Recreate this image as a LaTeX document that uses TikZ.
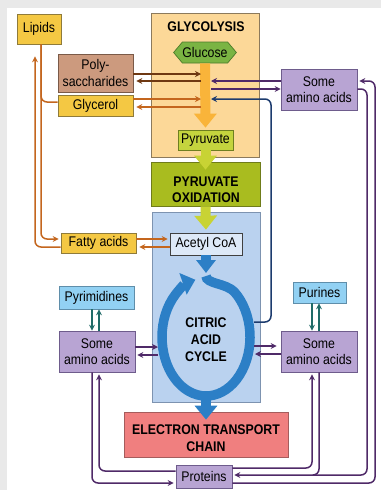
\documentclass[tikz,border=0pt]{standalone}
\usepackage{fontspec}
\setmainfont{Liberation Sans}[FakeStretch=0.88]
\usetikzlibrary{arrows.meta,shapes.symbols}

\definecolor{framegray}{HTML}{E9E9E9}
\definecolor{lipidyel}{HTML}{F4C843}
\definecolor{lipidline}{HTML}{8F7B3A}
\definecolor{polybrown}{HTML}{CC9A7E}
\definecolor{polyline}{HTML}{7A5A48}
\definecolor{glyfill}{HTML}{FCD898}
\definecolor{glyline}{HTML}{8C7A5C}
\definecolor{glucgreen}{HTML}{7AB443}
\definecolor{glucline}{HTML}{4C7A2A}
\definecolor{glyarrow}{HTML}{F9B43A}
\definecolor{pyrfill}{HTML}{C4D43E}
\definecolor{pyrline}{HTML}{6F7F20}
\definecolor{oxfill}{HTML}{A9BC1F}
\definecolor{oxline}{HTML}{6F7C1A}
\definecolor{ygarrow}{HTML}{C8D334}
\definecolor{citfill}{HTML}{BAD2EF}
\definecolor{citline}{HTML}{7D93B0}
\definecolor{acetylfill}{HTML}{DDE9F8}
\definecolor{ringblue}{HTML}{2C7FC6}
\definecolor{etcfill}{HTML}{F07F7F}
\definecolor{etcline}{HTML}{A55C5C}
\definecolor{aminopur}{HTML}{B8A4D3}
\definecolor{aminoline}{HTML}{6E5C8C}
\definecolor{nucblue}{HTML}{92D1F3}
\definecolor{nucline}{HTML}{5F8EAA}
\definecolor{brnline}{HTML}{6E3812}
\definecolor{orgline}{HTML}{C4661E}
\definecolor{purline}{HTML}{4F2A68}
\definecolor{navyline}{HTML}{1C3B6E}
\definecolor{tealline}{HTML}{1F6B68}

\tikzset{
  box/.style={rectangle, line width=0.7pt, inner sep=0pt, align=center,
    font=\fontsize{14}{16.5}\selectfont},
  fatbox/.style={box, fill=lipidyel, draw=lipidline},
  aminobox/.style={box, fill=aminopur, draw=aminoline, minimum width=76pt, minimum height=41pt},
  nucbox/.style={box, fill=nucblue, draw=nucline},
  stagebox/.style={rectangle, line width=0.7pt, inner sep=0pt},
  stagetext/.style={align=center, inner sep=0pt, font=\fontsize{14}{16}\selectfont\bfseries},
  flow/.style={line width=1.5pt, rounded corners=6pt, -{Stealth[length=6pt,width=6pt]}},
  blockarrow/.style={line width=10pt, -{Triangle[length=14pt,width=22pt]}}
}

\begin{document}
\begin{tikzpicture}[x=1pt, y=-1pt]
  \useasboundingbox (0,0) rectangle (381,490);
  \fill[framegray] (0,0) rectangle (381,490);
  \fill[white] (7,8) rectangle (381,490);

  % stages down the middle
  \node[stagebox, fill=glyfill, draw=glyline, minimum width=108pt, minimum height=144pt] (glycolysis) at (205,85) {};
  \node[stagetext] (glytitle) at (206,27) {GLYCOLYSIS};
  \node[box, shape=signal, signal to=east and west, signal pointer angle=100,
    fill=glucgreen, draw=glucline, minimum width=60pt, minimum height=21pt] (glucose) at (205,52.5) {Glucose};
  \node[box, fill=pyrfill, draw=pyrline, minimum width=55pt, minimum height=20pt] (pyruvate) at (205.5,140) {Pyruvate};
  \node[stagebox, fill=oxfill, draw=oxline, minimum width=109pt, minimum height=44pt] (pyrox) at (205.5,184) {};
  \node[stagetext] (pyroxtext) at (206,189.5) {PYRUVATE\\OXIDATION};
  \node[stagebox, fill=citfill, draw=citline, minimum width=108pt, minimum height=190pt] (citric) at (206,307) {};
  \node[box, fill=acetylfill, draw=black!75, minimum width=72pt, minimum height=22pt] (acetyl) at (206,244) {Acetyl CoA};
  \node[stagetext, font=\fontsize{14}{17}\selectfont\bfseries] (cycletext) at (206,340) {CITRIC\\ACID\\CYCLE};
  \node[stagebox, fill=etcfill, draw=etcline, minimum width=164pt, minimum height=45pt] (etc) at (206,434.5) {};
  \node[stagetext, font=\fontsize{14}{17}\selectfont\bfseries] (etctext) at (206,438.5) {ELECTRON TRANSPORT\\CHAIN};

  % boxes at the sides
  \node[fatbox, minimum width=44pt, minimum height=30pt] (lipids) at (39,29) {Lipids};
  \node[box, fill=polybrown, draw=polyline, minimum width=75pt, minimum height=38pt] (poly) at (95.5,73) {Poly-\\saccharides};
  \node[fatbox, minimum width=75pt, minimum height=21pt] (glycerol) at (95.5,105.5) {Glycerol};
  \node[fatbox, minimum width=75pt, minimum height=20pt] (fatty) at (98.5,243) {Fatty acids};
  \node[aminobox] (aaTR) at (319,89.5) {Some\\amino acids};
  \node[nucbox, minimum width=75pt, minimum height=23pt] (pyrimidines) at (96.5,297.5) {Pyrimidines};
  \node[aminobox] (aaL) at (97,351.5) {Some\\amino acids};
  \node[nucbox, minimum width=53pt, minimum height=21pt] (purines) at (319.5,292.5) {Purines};
  \node[aminobox] (aaR) at (319,351.5) {Some\\amino acids};
  \node[box, fill=aminopur, draw=aminoline, minimum width=56pt, minimum height=23pt] (proteins) at (204,476.5) {Proteins};

  \coordinate (shaftL) at (201,0);
  \coordinate (shaftR) at (211,0);
  \coordinate (ringW) at (158,0);
  \coordinate (ringE) at (254,0);
  \coordinate (ringN) at (206,273);
  \coordinate (ringS) at (206,396);

  % main block arrows
  \draw[blockarrow, glyarrow, shorten >=2pt] (glucose.south) -- (pyruvate.north);
  \draw[blockarrow, ygarrow, shorten >=-8pt] (pyruvate.south) -- (pyrox.north);
  \draw[blockarrow, ygarrow, shorten >=3pt] (pyrox.south) -- (acetyl.north);
  \draw[blockarrow, ringblue, -{Triangle[length=13pt,width=19pt]}] (acetyl.south) -- (ringN);
  \draw[ringblue, line width=9.5pt, -{Triangle[length=13pt,width=22pt]}]
    (206,276) .. controls (206,284) and (226,283) .. (234.3,291.8)
    arc[start angle=-50, end angle=256, x radius=44, y radius=59];
  \draw[blockarrow, ringblue, shorten >=-8pt] (ringS) -- (etc.north);

  % sugars and fats
  \draw[flow, brnline] (poly.east |- 0,74) -- (shaftL |- 0,74);
  \draw[flow, brnline, shorten >=3pt] (shaftL |- 0,81) -- (poly.east |- 0,81);
  \draw[flow, orgline] (glycerol.east |- 0,99) -- (shaftL |- 0,99);
  \draw[flow, orgline, shorten >=3pt] (shaftL |- 0,107) -- (glycerol.east |- 0,107);
  \draw[flow, orgline, -] (lipids.south -| 41,0) -- (41,102) -- (glycerol.west |- 0,102);
  \draw[flow, orgline, shorten >=2pt] (lipids.south -| 41,0) -- (41,239) -- (fatty.west |- 0,239);
  \draw[flow, orgline, shorten >=12pt] (fatty.west |- 0,247) -- (35,247) -- (lipids.south -| 35,0);
  \draw[flow, orgline, shorten >=2pt] (fatty.east |- 0,239) -- (acetyl.west |- 0,239);
  \draw[flow, orgline, shorten >=3pt] (acetyl.west |- 0,247) -- (fatty.east |- 0,247);

  % amino acids into glycolysis
  \draw[flow, purline] (aaTR.west |- 0,81) -- (shaftR |- 0,81);
  \draw[flow, purline] (shaftR |- 0,89) -- (aaTR.west |- 0,89);
  \draw[flow, navyline] (ringE |- 0,322) -- (271,322) -- (271,99) -- (shaftR |- 0,99);

  % nucleotides
  \draw[flow, tealline] (pyrimidines.south -| 92,0) -- (aaL.north -| 92,0);
  \draw[flow, tealline] (aaL.north -| 99,0) -- (pyrimidines.south -| 99,0);
  \draw[flow, tealline] (purines.south -| 312,0) -- (aaR.north -| 312,0);
  \draw[flow, tealline] (aaR.north -| 319,0) -- (purines.south -| 319,0);

  % amino acids and the cycle
  \draw[flow, purline] (aaL.east |- 0,347) -- (ringW |- 0,347);
  \draw[flow, purline, shorten >=2pt] (ringW |- 0,355) -- (aaL.east |- 0,355);
  \draw[flow, purline, shorten >=4pt] (ringE |- 0,346) -- (aaR.west |- 0,346);
  \draw[flow, purline, shorten >=1pt] (aaR.west |- 0,354) -- (ringE |- 0,354);

  % proteins
  \draw[flow, purline, shorten >=2pt] (aaL.south -| 92,0) -- (92,483) -- (proteins.west |- 0,483);
  \draw[flow, purline, shorten >=2pt] (proteins.west |- 0,471) -- (99,471) -- (aaL.south -| 99,0);
  \draw[flow, purline, shorten >=2pt] (proteins.east |- 0,468) -- (312,468) -- (aaR.south -| 312,0);
  \draw[flow, purline, shorten >=2pt] (aaR.south -| 319,0) -- (319,475) -- (proteins.east |- 0,475);
  \draw[flow, purline, -] (aaTR.east |- 0,89) -- (367,89) -- (367,475) -- (313,475);
  \draw[flow, purline, shorten >=2pt] (proteins.east |- 0,483) -- (375,483) -- (375,81) -- (aaTR.east |- 0,81);
\end{tikzpicture}
\end{document}
